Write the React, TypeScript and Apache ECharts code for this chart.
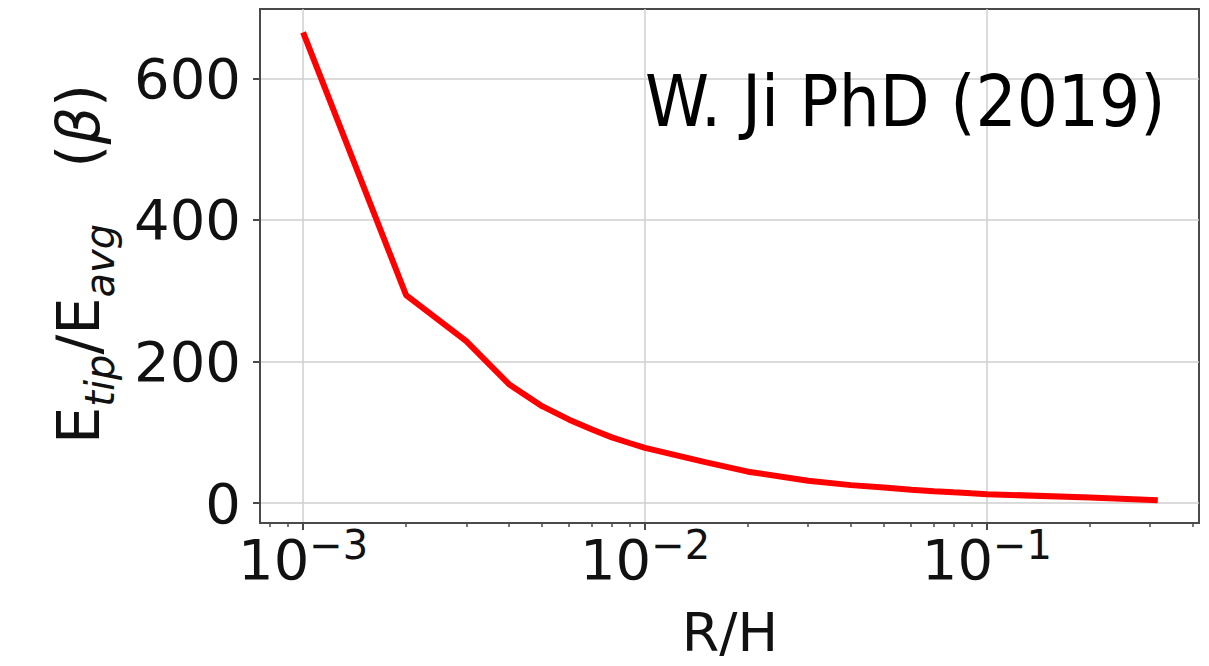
import React, { useEffect, useRef } from "react";
import * as echarts from "echarts";

// R/H values and tip field enhancement
const xValues = [0.001, 0.002, 0.003, 0.004, 0.005, 0.006, 0.007, 0.008, 0.009, 0.01, 0.015, 0.02, 0.03, 0.04, 0.05, 0.06, 0.07, 0.08, 0.09, 0.1, 0.2, 0.316];
const yValues = [665, 294, 229, 168, 137, 118, 104, 93, 85, 78, 58, 44.5, 31.8, 25.5, 22, 19, 17, 15.3, 13.9, 12.7, 8, 4.2];

const xMajorTicks = [0.001, 0.01, 0.1];
const xMinorTicks = [0.0008, 0.0009, 0.002, 0.003, 0.004, 0.005, 0.006, 0.007, 0.008, 0.009, 0.02, 0.03, 0.04, 0.05, 0.06, 0.07, 0.08, 0.09, 0.2, 0.3, 0.4];
const yTicks = [0, 200, 400, 600];

const xTitle = "R/H";
const annotation = "W. Ji PhD (2019)";

const FONT = "DejaVu Sans";
const FRAME = "#4a4a4a";
const GRIDC = "#cfcfcf";

export default function App() {
  const ref = useRef<HTMLDivElement>(null);
  useEffect(() => {
    if (!ref.current) return;
    const chart = echarts.init(ref.current, null, { renderer: "svg" });
    const xMin = 7.48e-4;
    const xMax = 0.417;
    chart.setOption({
      animation: false,
      backgroundColor: "#ffffff",
      grid: {
        left: 260,
        right: 10,
        top: 9,
        bottom: 143,
        show: true,
        borderColor: FRAME,
        borderWidth: 2,
        backgroundColor: "transparent",
      },
      xAxis: [
        {
          type: "log",
          logBase: 10,
          min: xMin,
          max: xMax,
          axisLine: { show: true, onZero: false, lineStyle: { color: FRAME, width: 2 } },
          axisTick: { show: true, customValues: xMajorTicks, length: 7, lineStyle: { color: FRAME, width: 2 } },
          minorTick: { show: false },
          axisLabel: {
            customValues: xMajorTicks,
            margin: 2,
            formatter: (v: number) => {
              const e = Math.round(Math.log10(v));
              return "{b|10}{s|\u2212" + Math.abs(e) + "}";
            },
            rich: {
              b: { fontSize: 56, fontFamily: FONT, color: "#111", verticalAlign: "bottom" },
              s: { fontSize: 40, fontFamily: FONT, color: "#111", verticalAlign: "bottom", padding: [0, 0, 22, 0] },
            },
          },
          splitLine: { show: true, lineStyle: { color: GRIDC, width: 1.5 } },
        },
        {
          type: "log",
          logBase: 10,
          min: xMin,
          max: xMax,
          position: "bottom",
          axisLine: { show: false, onZero: false },
          axisTick: { show: true, customValues: xMinorTicks, length: 4, lineStyle: { color: FRAME, width: 1.5 } },
          axisLabel: { show: false },
          splitLine: { show: false },
        },
      ],
      yAxis: {
        type: "value",
        min: -28,
        max: 698,
        axisLine: { show: true, onZero: false, lineStyle: { color: FRAME, width: 2 } },
        axisTick: { show: true, customValues: yTicks, length: 7, lineStyle: { color: FRAME, width: 2 } },
        axisLabel: {
          customValues: yTicks,
          margin: 19,
          fontSize: 56,
          fontFamily: FONT,
          color: "#111",
        },
        splitLine: { show: true, lineStyle: { color: GRIDC, width: 1.5 } },
      },
      series: [
        {
          type: "line",
          xAxisIndex: 0,
          data: xValues.map((x, i) => [x, yValues[i]]),
          showSymbol: false,
          symbol: "none",
          lineStyle: { color: "#ff0000", width: 6 },
          z: 5,
        },
      ],
      graphic: [
        {
          type: "text",
          x: 84,
          y: 264,
          rotation: Math.PI / 2,
          style: {
            text: "{n|E}{sub|tip}{n|/E}{sub|avg}{n|   (}{i|\u03b2}{n|)}",
            align: "center",
            verticalAlign: "middle",
            rich: {
              n: { fontSize: 59, fontFamily: FONT, fill: "#111", verticalAlign: "bottom", padding: [0, 0, 12, 0] },
              sub: { fontSize: 40, fontFamily: FONT, fontStyle: "italic", fill: "#111", verticalAlign: "bottom" },
              i: { fontSize: 59, fontFamily: FONT, fontStyle: "italic", fill: "#111", verticalAlign: "bottom", padding: [0, 0, 12, 0] },
            },
          },
        },
        {
          type: "text",
          x: 730,
          y: 632,
          style: { text: xTitle, fontSize: 54, fontFamily: FONT, fill: "#111", align: "center", verticalAlign: "middle" },
        },
        {
          type: "text",
          x: 645,
          y: 101,
          style: { text: annotation, fontSize: 72, fontFamily: "DejaVu Sans Condensed", fill: "#000", align: "left", verticalAlign: "middle" },
          z: 10,
        },
      ],
    });
    return () => chart.dispose();
  }, []);
  return <div ref={ref} style={{ width: 1209, height: 666, position: "absolute", left: 0, top: 0 }} />;
}
